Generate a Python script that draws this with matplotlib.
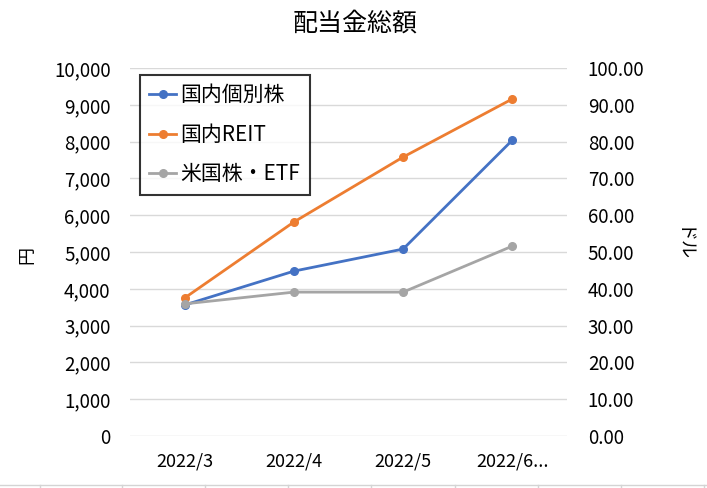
import matplotlib
matplotlib.use("Agg")
import matplotlib.pyplot as plt
from matplotlib.lines import Line2D

plt.rcParams['font.family'] = ['Noto Sans CJK JP', 'DejaVu Sans']

categories = ["2022/3", "2022/4", "2022/5", "2022/6..."]
domestic_stock = [3560, 4480, 5080, 8040]
domestic_reit = [3750, 5815, 7580, 9160]
us_stock_etf = [35.9, 39.1, 39.1, 51.6]

W, H = 707, 488
fig = plt.figure(figsize=(W / 100, H / 100), dpi=100)
ax = fig.add_axes([130 / W, 1 - 436 / H, (567 - 130) / W, (436 - 68) / H])
ax2 = ax.twinx()

x = list(range(len(categories)))
blue, orange, gray = "#4472C4", "#ED7D31", "#A5A5A5"
l1, = ax.plot(x, domestic_stock, color=blue, lw=2.0, marker='o', ms=5.5, label="国内個別株")
l2, = ax.plot(x, domestic_reit, color=orange, lw=2.0, marker='o', ms=5.5, label="国内REIT")
l3, = ax2.plot(x, us_stock_etf, color=gray, lw=2.0, marker='o', ms=5.5, label="米国株・ETF")

ax.set_xlim(-0.5, 3.5)
ax.set_ylim(0, 10000)
ax2.set_ylim(0, 100)
ax.set_yticks(range(0, 10001, 1000))
ax.set_yticklabels([f"{v:,}" for v in range(0, 10001, 1000)])
ax2.set_yticks(range(0, 101, 10))
ax2.set_yticklabels([f"{v:.2f}" for v in range(0, 101, 10)])
ax.set_xticks(x)
ax.set_xticklabels(categories)
ax.grid(axis='y', color="#D9D9D9", lw=1)
ax.set_axisbelow(True)
for a in (ax, ax2):
    for s in a.spines.values():
        s.set_visible(False)
    a.tick_params(length=0, labelsize=13.5, colors="#000000")
ax.tick_params(axis='y', pad=14)
ax2.tick_params(axis='y', pad=15)
ax.tick_params(axis='x', pad=12)
for t in ax.get_xticklabels():
    t.set_fontsize(13)

fig.text(355 / W, 1 - 24 / H, "配当金総額", ha='center', va='center', fontsize=18)
fig.text(27 / W, 1 - 255 / H, "円", ha='center', va='center', rotation=90, fontsize=13)
fig.text(682 / W, 1 - 245 / H, "ドル", ha='center', va='center', rotation=-90, fontsize=13)

leg = ax.legend(handles=[l1, l2, l3], loc='upper left',
                bbox_to_anchor=(140 / W, 1 - 75 / H), bbox_transform=fig.transFigure,
                frameon=True, fancybox=False, fontsize=15, labelspacing=0.84,
                handlelength=1.3, borderpad=0.45, handletextpad=0.2, borderaxespad=0)
leg.get_frame().set_edgecolor("black")
leg.get_frame().set_linewidth(1.5)
leg.set_zorder(10)

# spreadsheet cell grid below chart
fig.add_artist(Line2D([0, 1], [1 - 485 / H] * 2, color="#D4D4D4", lw=1, transform=fig.transFigure))
for px in [40, 122, 205, 288, 371, 455, 538, 621, 704]:
    fig.add_artist(Line2D([px / W] * 2, [0, 1 - 485 / H], color="#D4D4D4", lw=1, transform=fig.transFigure))

fig.savefig("out.png", dpi=100)
